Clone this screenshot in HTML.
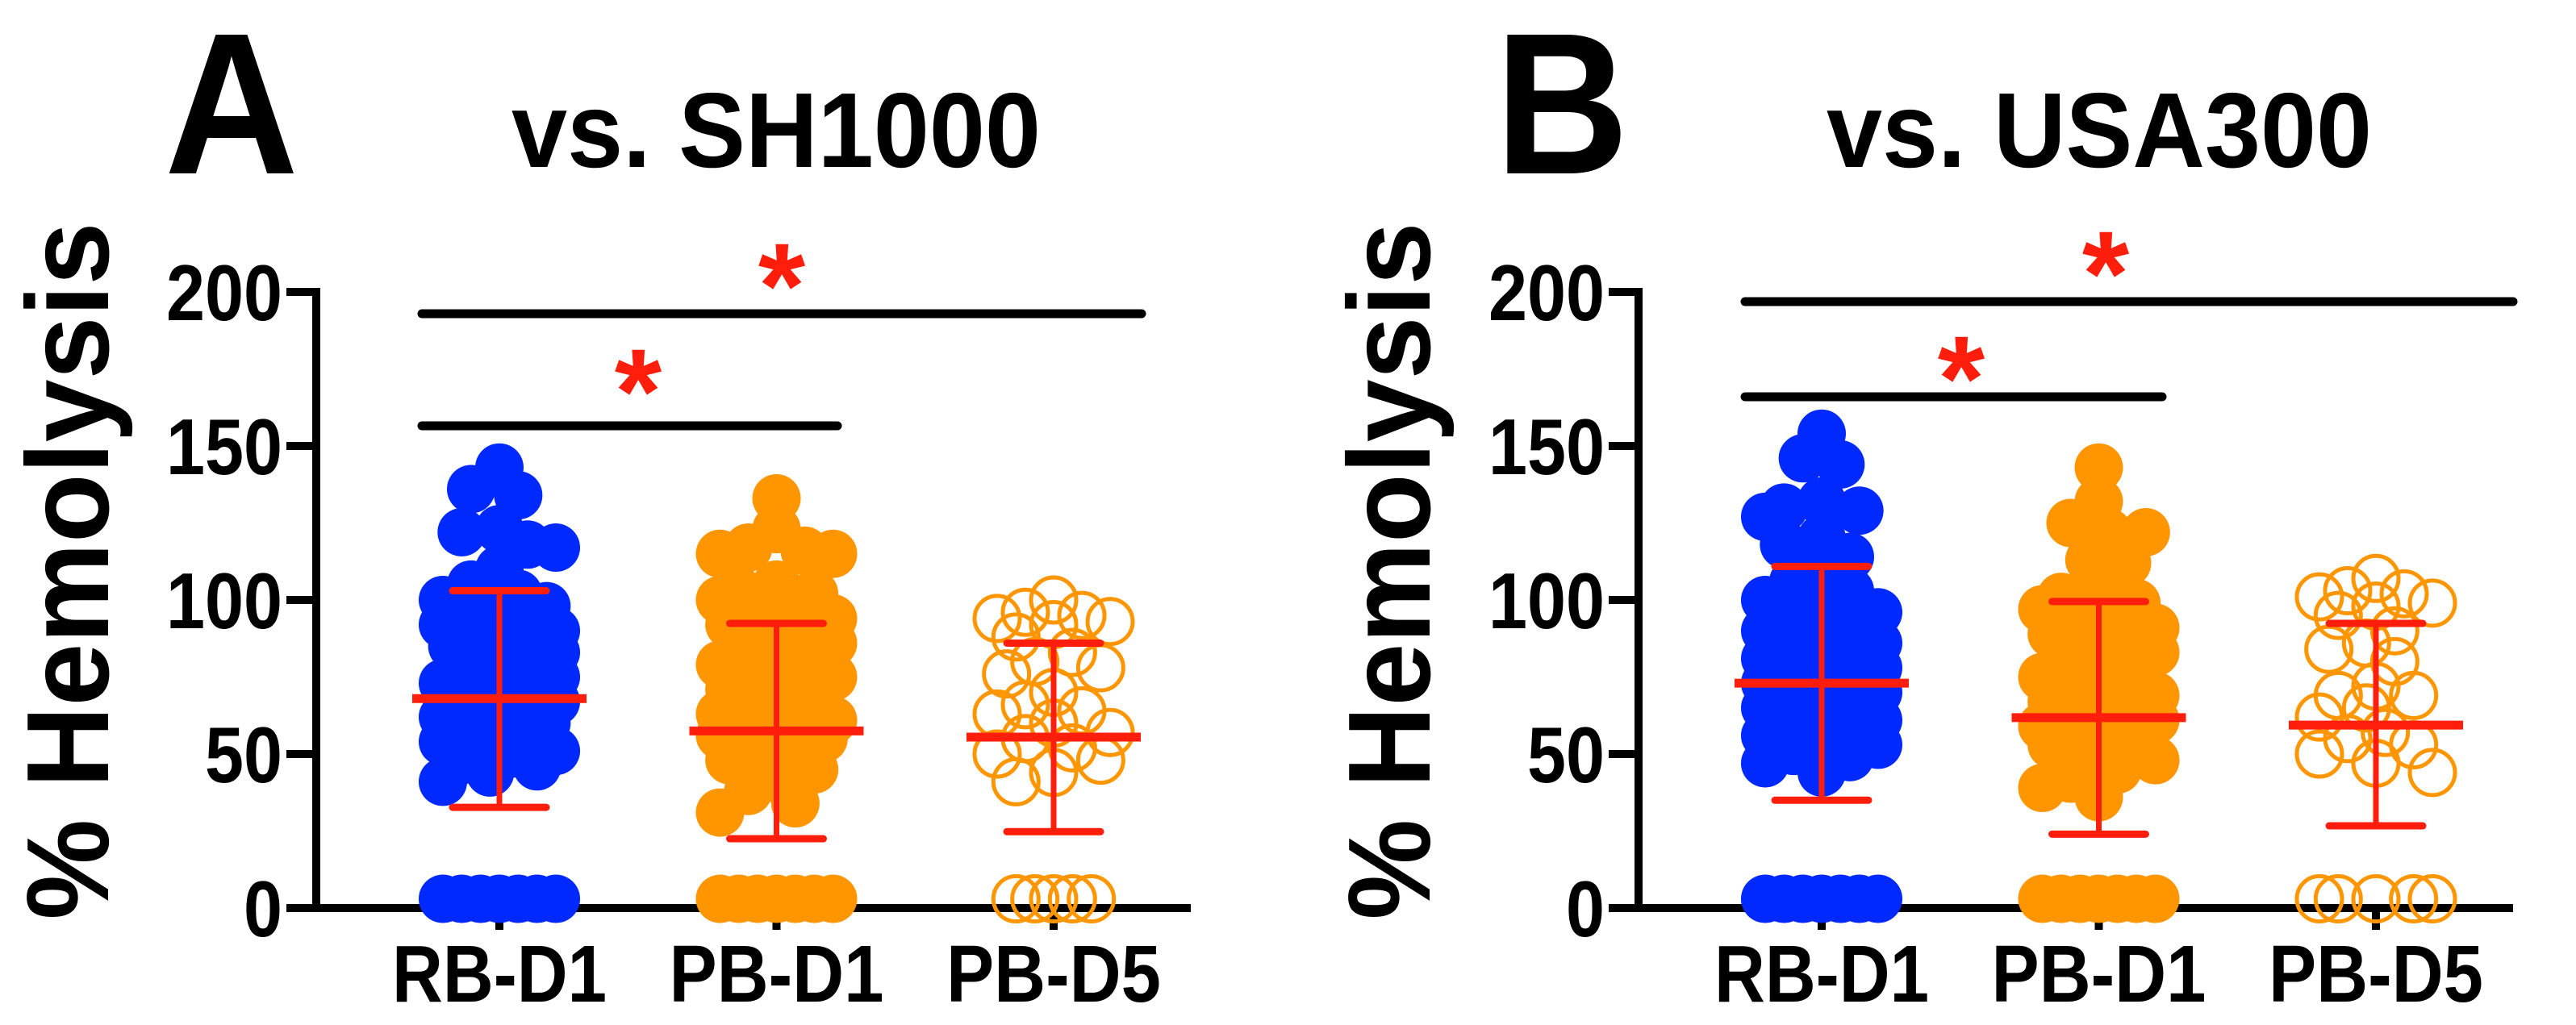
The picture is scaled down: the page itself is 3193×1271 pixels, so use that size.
<!DOCTYPE html>
<html><head><meta charset="utf-8"><title>Hemolysis</title>
<style>html,body{margin:0;padding:0;background:#fff}svg{display:block}text{font-family:"Liberation Sans",Arial,sans-serif;font-weight:bold}</style>
</head><body>
<svg id="fig" width="3193" height="1271" viewBox="0 0 3193 1271" xmlns="http://www.w3.org/2000/svg">
<rect x="0" y="0" width="3193" height="1271" fill="#fff"/>
</svg>
<script>
// ---- data ----
const categories = ["RB-D1", "PB-D1", "PB-D5"];
const yTicks = [0, 50, 100, 150, 200];
const yTickLabels = ["0", "50", "100", "150", "200"];

const aRBD1 = [143,136,134,123,122,118,117,110,105,102,100,98,96,95,93,92,90,88,87,86,85,83,82,80,78,77,75,73,72,70,68,67,65,64,62,61,60,58,57,56,54,53,51,50,48,46,44,41,3,3,3,3,3,3,3];
const aPBD1 = [133,123,117,116,115,115,105,103,102,100,98,96,94,92,90,88,86,85,83,81,79,77,75,73,71,69,67,65,63,61,60,58,57,56,55,53,51,48,45,42,38,34,31,3,3,3,3,3,3,3];
const aPBD5 = [100,96,95,94,93,92,88,83,80,78,76,70,66,64,63,60,57,55,52,50,48,44,41,3,3,3,3,3];
const aMean = [68, 57.5, 55.5];
const aSDHigh = [103, 92.4, 86];
const aSDLow = [32.7, 22.5, 24.8];

const bRBD1 = [154,146,144,132,130,129,127,120,118,114,110,106,103,100,98,96,94,92,90,88,86,85,83,81,80,78,76,75,73,71,70,68,66,65,63,61,60,58,56,55,53,51,49,47,44,3,3,3,3,3,3,3];
const bPBD1 = [143,132,125,122,122,113,112,101,101,99,97,95,93,91,89,87,85,83,81,79,77,75,73,71,69,67,65,63,61,59,58,57,55,53,51,48,45,42,39,36,3,3,3,3,3,3,3];
const bPBD5 = [107,103,102,101,99,98,95,90,86,84,80,72,69,69,65,62,57,55,53,50,47,44,3,3,3,3,3];
const bMean = [73, 61.8, 59.4];
const bSDHigh = [110.9, 99.5, 92.4];
const bSDLow = [35, 24, 26.7];

// ---- drawing ----
const NS = "http://www.w3.org/2000/svg";
const svg = document.getElementById("fig");
function mk(tag, attrs, parent) {
  const e = document.createElementNS(NS, tag);
  for (const k in attrs) e.setAttribute(k, attrs[k]);
  (parent || svg).appendChild(e);
  return e;
}
const BLUE = "#0029ff", ORANGE = "#ff9600", RED = "#ff1e0c";
const Y0 = 1126, PPU = 3.82;
function yScale(v) { return Y0 - v * PPU; }

function drawPanel(p) {
  const g = mk("g", {});
  
  
  function xScale(i) { return p.axX + 227 + i * 343.5; }

  const letter = mk("text", {x: p.letterX, y: 215, "font-size": 250, "text-anchor": "middle", textLength: 166, lengthAdjust: "spacingAndGlyphs"}, g);
  letter.textContent = p.letter;
  
  

  const title = mk("text", {x: p.titleX, y: 207, "font-size": 132, "text-anchor": "middle", textLength: p.titleW, lengthAdjust: "spacingAndGlyphs"}, g);
  title.textContent = p.title;
  
  

  const yl = mk("text", {x: 0, y: 0, "font-size": 145, "text-anchor": "middle", textLength: 865, lengthAdjust: "spacingAndGlyphs", transform: "translate(" + p.ylabX + ",708) rotate(-90)"}, g);
  yl.textContent = "% Hemolysis";
  
  

  const yAxis = mk("line", {x1: p.axX, y1: yScale(200) - 5, x2: p.axX, y2: Y0 + 5, stroke: "#000", "stroke-width": 10}, g);
  
  
  const xAxis = mk("line", {x1: p.axX - 5, y1: Y0, x2: p.axX + 1084, y2: Y0, stroke: "#000", "stroke-width": 10}, g);
  
  

  yTicks.forEach((t, i) => {
    const y = yScale(t);
    const tk = mk("line", {x1: p.axX - 37, y1: y, x2: p.axX, y2: y, stroke: "#000", "stroke-width": 10}, g);
    
    
    const lab = yTickLabels[i];
    const tl = mk("text", {x: p.axX - 42, y: y + 35, "font-size": 98, "text-anchor": "end", textLength: 48 * lab.length, lengthAdjust: "spacingAndGlyphs"}, g);
    tl.textContent = lab;
    
    
  });

  categories.forEach((c, i) => {
    const x = xScale(i);
    const tk = mk("line", {x1: x, y1: Y0, x2: x, y2: Y0 + 27, stroke: "#000", "stroke-width": 10}, g);
    
    
    const tl = mk("text", {x: x, y: 1242, "font-size": 100, "text-anchor": "middle", textLength: 266, lengthAdjust: "spacingAndGlyphs"}, g);
    tl.textContent = c;
    
    
  });

  const series = [p.s0, p.s1, p.s2];
  const styles = [{fill: BLUE, stroke: "none"}, {fill: ORANGE, stroke: "none"}, {fill: "none", stroke: ORANGE, "stroke-width": 5}];
  const names = ['rb-d1-point', 'pb-d1-point', 'pb-d5-point'];
  const cand = [0];
  for (let k = 1; k <= 6; k++) { cand.push(-k * 11.67, k * 11.67); }
  series.forEach((vals, si) => {
    const cx = xScale(si);
    const sorted = vals.slice().sort((a, b) => b - a);
    const placed = [];
    const D = 38;
    sorted.forEach(v => {
      const y = yScale(v);
      let best = null, bestD = -1;
      for (const c of cand) {
        const x = cx + c;
        let md = Infinity;
        for (const q of placed) md = Math.min(md, Math.hypot(q[0] - x, q[1] - y));
        if (md >= D) { best = x; bestD = md; break; }
        if (md > bestD) { bestD = md; best = x; }
      }
      placed.push([best, y]);
      const r = si === 2 ? 28 : 30;
      const a = Object.assign({cx: best, cy: y, r: r}, styles[si]);
      const ci = mk("circle", a, g);
      
      
    });
  });

  categories.forEach((c, i) => {
    const x = xScale(i);
    const v = mk("line", {x1: x, y1: yScale(p.hi[i]), x2: x, y2: yScale(p.lo[i]), stroke: RED, "stroke-width": 7}, g);
    
    
    [p.hi[i], p.lo[i]].forEach(val => {
      const cap = mk("line", {x1: x - 58, y1: yScale(val), x2: x + 58, y2: yScale(val), stroke: RED, "stroke-width": 9, "stroke-linecap": "round"}, g);
      
      
    });
    const m = mk("line", {x1: x - 108, y1: yScale(p.mean[i]), x2: x + 108, y2: yScale(p.mean[i]), stroke: RED, "stroke-width": 11}, g);
    
    
  });

  p.sig.forEach(s => {
    const l = mk("line", {x1: s.x1, y1: s.y, x2: s.x2, y2: s.y, stroke: "#000", "stroke-width": 11, "stroke-linecap": "round"}, g);
    
    
    const st = mk("text", {x: s.sx, y: s.sy, "font-size": 150, "text-anchor": "middle", fill: RED}, g);
    st.textContent = "*";
    
    
  });
}

drawPanel({id: "a", letter: "A", letterX: 287, title: "vs. SH1000", titleX: 962, titleW: 656, ylabX: 134, axX: 392,
  s0: aRBD1, s1: aPBD1, s2: aPBD5, mean: aMean, hi: aSDHigh, lo: aSDLow,
  sig: [{x1: 523, x2: 1415, y: 389, sx: 969, sy: 406}, {x1: 523, x2: 1038, y: 528, sx: 791, sy: 537}]});
drawPanel({id: "b", letter: "B", letterX: 1936, title: "vs. USA300", titleX: 2602, titleW: 676, ylabX: 1772, axX: 2031,
  s0: bRBD1, s1: bPBD1, s2: bPBD5, mean: bMean, hi: bSDHigh, lo: bSDLow,
  sig: [{x1: 2163, x2: 3115, y: 374, sx: 2610, sy: 391}, {x1: 2163, x2: 2680, y: 492, sx: 2431, sy: 521}]});
</script>
</body></html>
